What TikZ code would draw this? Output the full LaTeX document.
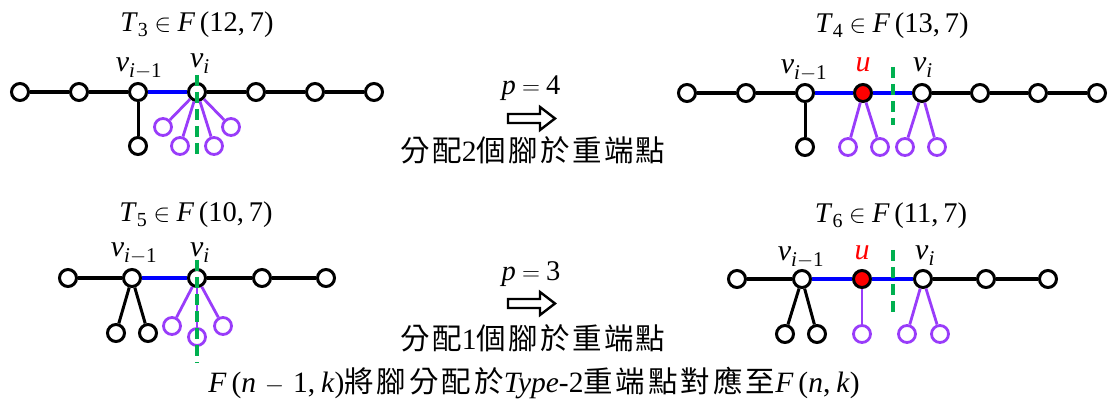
\documentclass[tikz,border=0pt]{standalone}
\usepackage{fontspec}
\setmainfont{Liberation Serif}
\newfontfamily\cjk[LetterSpace=8]{Noto Sans CJK TC}
\newfontfamily\cjkb[LetterSpace=10]{Noto Sans CJK TC}
\newcommand{\mv}[1]{\textit{#1}}
\newcommand{\sbx}[1]{\textsubscript{#1}}
\newcommand{\gapsp}{\hspace{0.22em}}
\definecolor{pur}{RGB}{153,60,250}
\definecolor{gre}{RGB}{0,176,80}
\tikzset{
  vtx/.style={circle,draw=black,line width=3pt,fill=white,minimum size=17pt,inner sep=0pt},
  pv/.style={vtx,draw=pur,line width=2.8pt},
  rv/.style={vtx,fill=red},
  be/.style={line width=3.6pt,black},
  pe/.style={line width=3pt,black},
  bl/.style={line width=3.6pt,blue},
  pu/.style={line width=2.8pt,pur},
  gd/.style={line width=3.4pt,gre,dash pattern=on 11pt off 6pt},
  ttl/.style={anchor=base,inner sep=0pt,font=\fontsize{28.5}{32}\selectfont},
  vl/.style={anchor=base,inner sep=0pt,font=\fontsize{30}{34}\selectfont},
  cj/.style={inner sep=0pt,font=\fontsize{29.5}{34}\selectfont\cjk},
  barrow/.style={draw=black,line width=2.4pt,fill=white},
}
\begin{document}
\begin{tikzpicture}[x=1pt,y=-1pt]
\useasboundingbox (0,0) rectangle (1109,406);
% ---------- T3 ----------
\node[ttl] (t3) at (197,32) {\mv{T}\sbx{3}\gapsp$\in$\gapsp\mv{F}\,(12,\,7)};
\foreach \n/\x in {a1/20,a2/79,a3/138,a4/197,a5/256,a6/315,a7/374}
  \node[vtx] (\n) at (\x,92) {};
\node[vtx] (b1) at (138,146) {};
\node[pv] (p1) at (163,127) {};
\node[pv] (p2) at (180,146) {};
\node[pv] (p3) at (214,146) {};
\node[pv] (p4) at (231,127) {};
\draw[be] (a1) -- (a2) -- (a3);
\draw[bl] (a3) -- (a4);
\draw[be] (a4) -- (a5) -- (a6) -- (a7);
\draw[pe] (a3) -- (b1);
\foreach \p in {p1,p2,p3,p4} \draw[pu] (a4) -- (\p);
\node[vl] (la3) at (139,72) {\mv{v}\sbx{\mv{i}$-$1}};
\node[vl] (la4) at (200,68) {\mv{v}\sbx{\mv{i}}};
\coordinate (g1a) at (197,75); \coordinate (g1b) at (197,158);
\draw[gd] (g1a) -- (g1b);
% ---------- T4 ----------
\node[ttl] (t4) at (892,33) {\mv{T}\sbx{4}\gapsp$\in$\gapsp\mv{F}\,(13,\,7)};
\foreach \n/\x in {c1/687,c2/746,c3/805,c4/922,c5/980,c6/1038,c7/1097}
  \node[vtx] (\n) at (\x,93) {};
\node[rv] (u1) at (863,93) {};
\node[vtx] (d1) at (805,147) {};
\node[pv] (q1) at (848,147) {};
\node[pv] (q2) at (880,147) {};
\node[pv] (q3) at (905,147) {};
\node[pv] (q4) at (937,147) {};
\draw[be] (c1) -- (c2) -- (c3);
\draw[bl] (c3) -- (u1) -- (c4);
\draw[be] (c4) -- (c5) -- (c6) -- (c7);
\draw[pe] (c3) -- (d1);
\draw[pu] (u1) -- (q1); \draw[pu] (u1) -- (q2);
\draw[pu] (c4) -- (q3); \draw[pu] (c4) -- (q4);
\node[vl] (lc3) at (804,74) {\mv{v}\sbx{\mv{i}$-$1}};
\node[vl,red] (lu1) at (863,72) {\mv{u}};
\node[vl] (lc4) at (923,72) {\mv{v}\sbx{\mv{i}}};
\coordinate (g2a) at (893,67); \coordinate (g2b) at (893,125);
\draw[gd] (g2a) -- (g2b);
% ---------- T5 ----------
\node[ttl] (t5) at (196,222) {\mv{T}\sbx{5}\gapsp$\in$\gapsp\mv{F}\,(10,\,7)};
\foreach \n/\x in {e1/68,e2/132,e3/197,e4/262,e5/326}
  \node[vtx] (\n) at (\x,278) {};
\node[vtx] (f1) at (116,333) {};
\node[vtx] (f2) at (148,333) {};
\node[pv] (r1) at (172,326) {};
\node[pv] (r2) at (197,337) {};
\node[pv] (r3) at (223,326) {};
\draw[be] (e1) -- (e2);
\draw[bl] (e2) -- (e3);
\draw[be] (e3) -- (e4) -- (e5);
\draw[pe] (e2) -- (f1); \draw[pe] (e2) -- (f2);
\foreach \p in {r1,r2,r3} \draw[pu] (e3) -- (\p);
\node[vl] (le2) at (134,257) {\mv{v}\sbx{\mv{i}$-$1}};
\node[vl] (le3) at (200,257) {\mv{v}\sbx{\mv{i}}};
\coordinate (g3a) at (197,260); \coordinate (g3b) at (197,363);
\draw[gd] (g3a) -- (g3b);
% ---------- T6 ----------
\node[ttl] (t6) at (891,223) {\mv{T}\sbx{6}\gapsp$\in$\gapsp\mv{F}\,(11,\,7)};
\foreach \n/\x in {k1/737,k2/802,k3/923,k4/986,k5/1048}
  \node[vtx] (\n) at (\x,279) {};
\node[rv] (u2) at (862,279) {};
\node[vtx] (h1) at (785,334) {};
\node[vtx] (h2) at (817,334) {};
\node[pv] (s1) at (862,334) {};
\node[pv] (s2) at (907,334) {};
\node[pv] (s3) at (940,334) {};
\draw[be] (k1) -- (k2);
\draw[bl] (k2) -- (u2) -- (k3);
\draw[be] (k3) -- (k4) -- (k5);
\draw[pe] (k2) -- (h1); \draw[pe] (k2) -- (h2);
\draw[pu] (u2) -- (s1);
\draw[pu] (k3) -- (s2); \draw[pu] (k3) -- (s3);
\node[vl] (lk2) at (801,261) {\mv{v}\sbx{\mv{i}$-$1}};
\node[vl,red] (lu2) at (862,260) {\mv{u}};
\node[vl] (lk3) at (925,260) {\mv{v}\sbx{\mv{i}}};
\coordinate (g4a) at (893,250); \coordinate (g4b) at (893,312);
\draw[gd] (g4a) -- (g4b);
% ---------- middle ----------
\node[ttl] (p4) at (531,95) {\mv{p}\gapsp$=$\gapsp4};
\draw[barrow] (508,114) -- (540,114) -- (540,107) -- (555,118.5) -- (540,130) -- (540,123) -- (508,123) -- cycle;
\node[cj] (m1) at (533,150) {分配{\rmfamily 2}個腳於重端點};
\node[ttl] (p3) at (531,280) {\mv{p}\gapsp$=$\gapsp3};
\draw[barrow] (508,299) -- (540,299) -- (540,292) -- (555,303.5) -- (540,315) -- (540,308) -- (508,308) -- cycle;
\node[cj] (m2) at (533,338) {分配{\rmfamily 1}個腳於重端點};
% ---------- bottom ----------
\node[ttl,font=\fontsize{29.5}{34}\selectfont] (bt) at (534,392) {\mv{F}\,(\mv{n}\hspace{0.3em}$-$\hspace{0.3em}1,\hspace{0.2em}\mv{k}){\fontsize{29.5}{34}\selectfont\cjkb 將腳分配於}\mv{Type}-2{\fontsize{29.5}{34}\selectfont\cjkb 重端點對應至}\mv{F}\,(\mv{n},\hspace{0.2em}\mv{k})};
\end{tikzpicture}
\end{document}
